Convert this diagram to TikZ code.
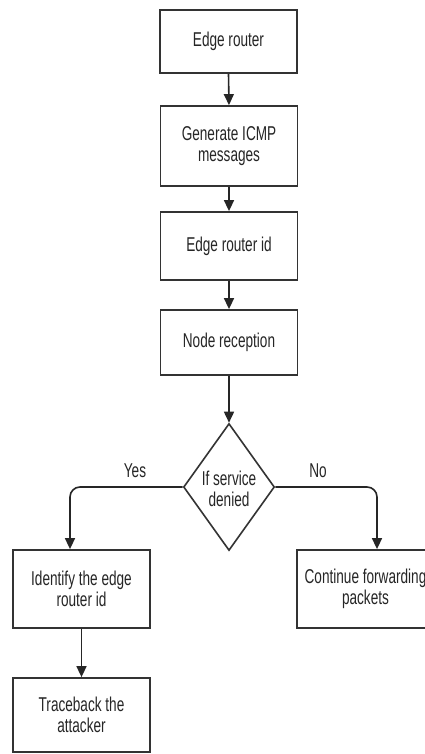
\documentclass[tikz,border=0pt]{standalone}
\usepackage{fontspec}
\setmainfont[FakeStretch=0.68]{Liberation Sans}
\usetikzlibrary{arrows.meta,shapes.geometric,calc}
\begin{document}
\begin{tikzpicture}[x=1pt,y=-1pt,
  every node/.style={font=\fontsize{20}{21}\selectfont, text=black!85},
  box/.style={draw=black!80, line width=1.8pt, fill=white, minimum width=137pt, inner sep=0pt, align=center},
  arr/.style={draw=black!85, line width=1.6pt, -{Triangle[length=11pt,width=10pt]}},
  lbl/.style={font=\fontsize{20}{21}\selectfont}
]
\useasboundingbox (0,0) rectangle (425,754);
\clip (0,0) rectangle (425,754);
\fill[white] (0,0) rectangle (425,754);

\node[box, minimum height=63pt] (b1) at (228.5,41.5) {Edge router};
\node[box, minimum height=80pt] (b2) at (229,146) {Generate ICMP\\messages};
\node[box, minimum height=68pt] (b3) at (229,246) {Edge router id};
\node[box, minimum height=65pt] (b4) at (229,342.5) {Node reception};
\node[draw=black!80, line width=1.6pt, fill=white, shape=diamond, minimum width=91pt, minimum height=127pt, inner sep=0pt, align=center] (dia) at (229,487) {};
\node[align=center] (diat) at (229,489) {If service\\denied};
\node[box, minimum height=78pt] (b5) at (81.5,589) {Identify the edge\\router id};
\node[box, minimum height=74pt] (b6) at (81.5,715) {Traceback the\\attacker};
\node[box, minimum height=78pt] (b7) at (365.5,589) {Continue forwarding\\packets};

\node[lbl] (yes) at (135,471) {Yes};
\node[lbl] (no) at (318,471) {No};

\draw[arr] (b1.south) -- (b2.north);
\draw[arr] (b2.south) -- (b3.north);
\draw[arr] (b3.south) -- (b4.north);
\draw[arr] (b4.south) -- (dia.north);
\draw[arr, rounded corners=10pt] (dia.west) -| ([xshift=-11.5pt]b5.north);
\draw[arr, rounded corners=10pt] (dia.east) -| ([xshift=11.5pt]b7.north);
\draw[arr] (b5.south) -- (b6.north);
\end{tikzpicture}
\end{document}
